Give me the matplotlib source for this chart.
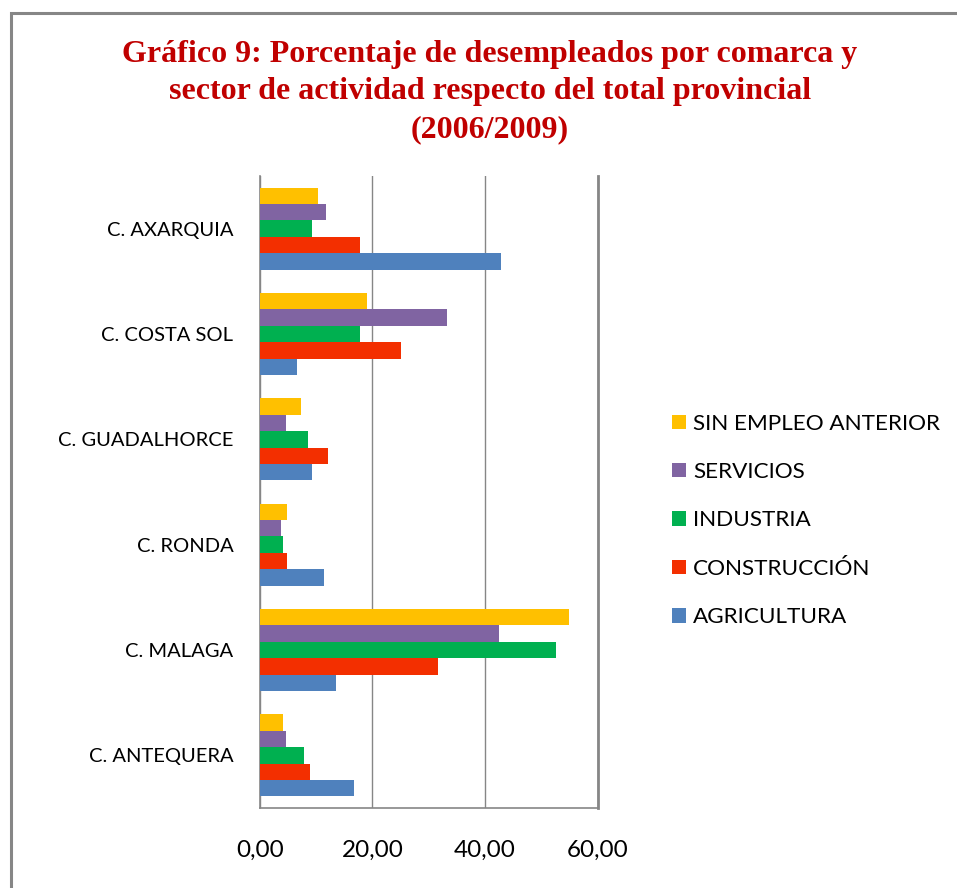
import matplotlib
matplotlib.use("Agg")
import matplotlib.pyplot as plt
from matplotlib.patches import Rectangle, Patch
import numpy as np

# Data (percent of provincial total)
comarcas = ["C. ANTEQUERA", "C. MALAGA", "C. RONDA",
            "C. GUADALHORCE", "C. COSTA SOL", "C. AXARQUIA"]
agricultura = [16.7, 13.5, 11.4, 9.3, 6.6, 42.8]
construccion = [8.9, 31.7, 4.8, 12.1, 25.1, 17.8]
industria = [7.9, 52.6, 4.1, 8.6, 17.8, 9.3]
servicios = [4.7, 42.5, 3.8, 4.7, 33.2, 11.8]
sin_empleo = [4.1, 54.9, 4.8, 7.3, 19.0, 10.3]

series_names = ["AGRICULTURA", "CONSTRUCCIÓN", "INDUSTRIA",
                "SERVICIOS", "SIN EMPLEO ANTERIOR"]
series_values = [agricultura, construccion, industria, servicios, sin_empleo]
series_colors = ["#4F81BD", "#F32F00", "#00B050", "#8064A2", "#FFC000"]
x_ticks = [0, 20, 40, 60]
x_tick_labels = ["0,00", "20,00", "40,00", "60,00"]

grey = "#868686"
font = "Lato"

fig = plt.figure(figsize=(9.57, 8.88), dpi=100)
ax = fig.add_axes([0.2714, 0.0901, 0.3532, 0.7117])

# Grouped horizontal bars
bar_h = 0.156
y = np.arange(len(comarcas))
for k, (vals, col) in enumerate(zip(series_values, series_colors)):
    ax.barh(y + (k - 2) * bar_h, vals, height=bar_h, color=col,
            label=series_names[k], zorder=3)

ax.set_ylim(-0.5, len(comarcas) - 0.5)
ax.set_xlim(0, 60)
ax.set_yticks(y)
ax.set_yticklabels(comarcas, fontsize=14.5, family=font)
ax.set_xticks(x_ticks)
ax.set_xticklabels(x_tick_labels, fontsize=17.5, family=font)
ax.tick_params(axis="y", length=0, pad=19)
ax.tick_params(axis="x", length=0, pad=23)
ax.grid(axis="x", color=grey, linewidth=1, zorder=0)

for side in ["left", "bottom"]:
    ax.spines[side].set_color(grey)
    ax.spines[side].set_linewidth(1.2)
ax.spines["right"].set_color(grey)
ax.spines["right"].set_linewidth(2)
ax.spines["top"].set_visible(False)

# Legend, top entry first like the original
handles = [Patch(facecolor=c, edgecolor="none") for c in series_colors][::-1]
leg = fig.legend(handles, series_names[::-1], loc="center left",
                 bbox_to_anchor=(0.681, 0.4139), frameon=False,
                 prop={"family": font, "size": 16.2},
                 handlelength=0.62, handleheight=0.62, handletextpad=0.31,
                 labelspacing=1.26)

# Title
title_lines = ["Gráfico 9: Porcentaje de desempleados por comarca y",
               "sector de actividad respecto del total provincial",
               "(2006/2009)"]
for line, ty in zip(title_lines, [0.939, 0.897, 0.854]):
    fig.text(0.512, ty, line, ha="center", va="center",
             family="Liberation Serif", weight="bold", size=23,
             color="#C00000")

# Chart frame (only left and top edges fall inside the picture)
fig.patches.append(Rectangle((10.5 / 957, -0.1), 1.2, (888 - 13.3) / 888 + 0.1,
                             transform=fig.transFigure, fill=False,
                             edgecolor=grey, linewidth=2.2))

fig.savefig("out.png", dpi=100)
